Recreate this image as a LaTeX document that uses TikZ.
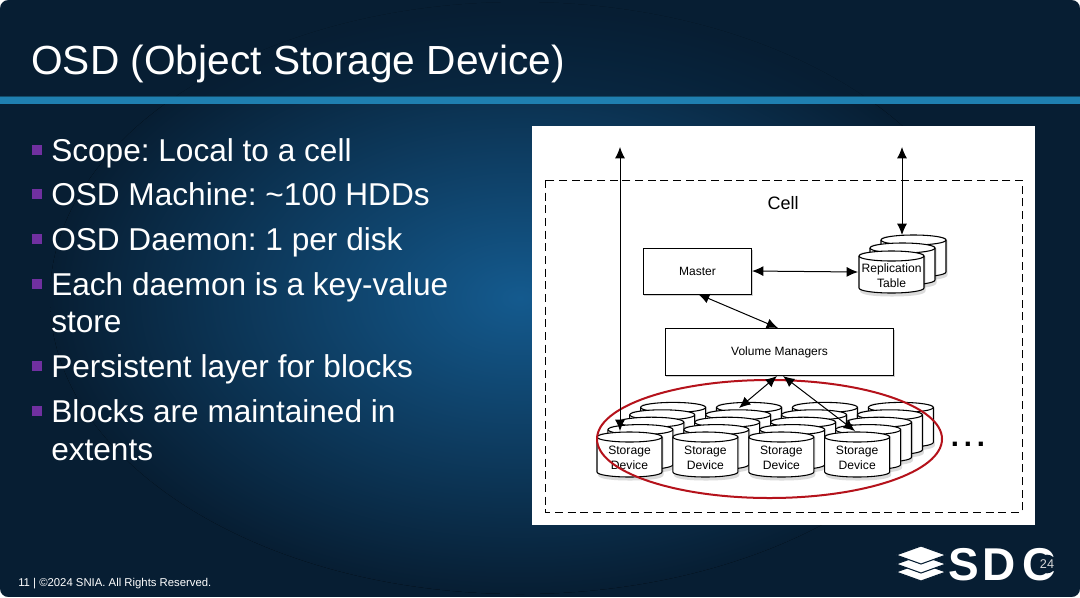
\documentclass[tikz,border=0pt]{standalone}
\usepackage{fontspec}
\setmainfont{Liberation Sans}
\frenchspacing
\usetikzlibrary{arrows.meta,shapes.geometric}
\definecolor{navy}{HTML}{071E33}
\definecolor{glow}{HTML}{145A8E}
\definecolor{barblue}{HTML}{1F7FB0}
\definecolor{bulletc}{HTML}{7030A0}
\definecolor{ringred}{HTML}{B5121B}
\newcommand{\fs}[1]{\fontsize{#1}{#1}\selectfont}
\tikzset{
  x=0.75pt,y=-0.75pt,
  body/.style={text=white,anchor=base west,inner sep=0,font=\fs{23.7pt}},
  bul/.style={fill=bulletc,inner sep=0,minimum size=7pt,anchor=south west},
  box/.style={draw=black,fill=white,line width=0.8pt,font=\fs{9pt},inner sep=0,anchor=north west},
  lbl/.style={font=\fs{9.1pt},align=center,inner sep=0,text=black,execute at begin node=\setlength{\baselineskip}{11.2pt}},
  link/.style={line width=0.75pt,black,{Latex[length=8.5pt,width=7.5pt]}-{Latex[length=8.5pt,width=7.5pt]}},
  cyl/.pic={
    \fill[black,opacity=.14] (1,3) .. controls (1,0) and (15,1) .. (33,1) .. controls (51,1) and (66.5,0) .. (66.5,6)
      -- (66.5,\cylh-2) .. controls (66.5,\cylh+2) and (51,\cylh+3.5) .. (33,\cylh+3.5) .. controls (15,\cylh+3.5) and (1,\cylh+2) .. (1,\cylh-2) -- cycle;
    \filldraw[draw=black,fill=white,line width=0.8pt]
      (0,5) .. controls (0,2.2) and (14.5,0) .. (32.5,0) .. controls (50.5,0) and (65,2.2) .. (65,5)
      -- (65,\cylh-5) .. controls (65,\cylh-2.2) and (50.5,\cylh) .. (32.5,\cylh) .. controls (14.5,\cylh) and (0,\cylh-2.2) .. (0,\cylh-5) -- cycle;
    \draw[line width=0.8pt] (0,5) .. controls (0,7.8) and (14.5,10) .. (32.5,10) .. controls (50.5,10) and (65,7.8) .. (65,5);
  }
}
\begin{document}
\begin{tikzpicture}
\useasboundingbox (0,0) rectangle (1080,597);
\fill[navy] (0,0) rectangle (1080,597);
\fill[inner color=glow,outer color=navy] (520,298) ellipse [x radius=470,y radius=296];
\fill[navy,opacity=.5] (0,0) rectangle (1080,97);
\fill[barblue] (0,97) rectangle (1080,104);
\fill[black!40!barblue] (0,96) rectangle (1080,97);
% rounded slide corners
\fill[white] (0,0) -- (8,0) .. controls (3.6,0) and (0,3.6) .. (0,8) -- cycle;
\fill[white] (1080,0) -- (1072,0) .. controls (1076.4,0) and (1080,3.6) .. (1080,8) -- cycle;
\fill[white] (0,597) -- (8,597) .. controls (3.6,597) and (0,593.4) .. (0,589) -- cycle;
\fill[white] (1080,597) -- (1072,597) .. controls (1076.4,597) and (1080,593.4) .. (1080,589) -- cycle;

\node[text=white,anchor=base west,inner sep=0,font=\fs{30.5pt}] (title) at (31,74) {OSD (Object Storage Device)};

\node[bul] (b1) at (32,155) {};
\node[body] (t1) at (51,161) {Scope: Local to a cell};
\node[bul] (b2) at (32,199) {};
\node[body] (t2) at (51,205) {OSD Machine: \textasciitilde100 HDDs};
\node[bul] (b3) at (32,244) {};
\node[body] (t3) at (51,250) {OSD Daemon: 1 per disk};
\node[bul] (b4) at (32,289) {};
\node[body] (t4) at (51,295) {Each daemon is a key-value};
\node[body] (t4b) at (51,332) {store};
\node[bul] (b5) at (32,371) {};
\node[body] (t5) at (51,377) {Persistent layer for blocks};
\node[bul] (b6) at (32,416) {};
\node[body] (t6) at (51,422) {Blocks are maintained in};
\node[body] (t6b) at (51,460) {extents};

\node[text=white,anchor=base west,inner sep=0,font=\fs{8.5pt}] (foot) at (18,586) {11 | ©2024 SNIA. All Rights Reserved.};

% panel
\fill[white] (532,126) rectangle (1035,525);
\draw[black,line width=0.6pt,dash pattern=on 6pt off 3.5pt] (545,180) rectangle (1022,512);
\node[font=\fs{13.5pt},inner sep=0] (cell) at (783,203) {Cell};

\coordinate (topL) at (620,147);
\coordinate (topR) at (902,147);

% boxes
\fill[black,opacity=.18] (644,250) rectangle (752.5,296);
\fill[black,opacity=.18] (666,330) rectangle (894.5,377);
\node[box,minimum width=81pt,minimum height=34.5pt] (master) at (643,248) {Master};
\node[box,minimum width=171pt,minimum height=35.25pt] (vm) at (665,328) {Volume Managers};

% replication table
\def\cylh{42}
\pic at (881,235) {cyl};
\pic at (870,243) {cyl};
\pic at (859,251) {cyl};
\node[lbl] (rep) at (891.5,275.5) {Replication\\Table};
\coordinate (repTop) at (902,235);

% storage devices
\def\cylh{45}
\foreach \r in {4,3,2,1,0}{
  \foreach \c in {0,1,2,3}{
    \pgfmathsetmacro{\px}{597+75.9*\c+10.9*\r}
    \pgfmathsetmacro{\py}{432-7.4*\r}
    \pic at (\px,\py) {cyl};
  }
}
\node[lbl] (sd0) at (629.5,458) {Storage\\Device};
\node[lbl] (sd1) at (705.4,458) {Storage\\Device};
\node[lbl] (sd2) at (781.3,458) {Storage\\Device};
\node[lbl] (sd3) at (857.2,458) {Storage\\Device};
\coordinate (d0) at (620,431);
\coordinate (d1) at (739,408);
\coordinate (d3) at (855,431);
\coordinate (vmA) at (777,376);
\coordinate (vmB) at (783,376);
\coordinate (mR) at (752,271);
\coordinate (rL) at (858,272);
\coordinate (mB) at (698,294);
\coordinate (vmT) at (778,328);

\node[font=\bfseries\fs{22pt},inner sep=0,anchor=base] (dots) at (968,446) {.\kern3.6pt.\kern3.6pt.};

\draw[ringred,line width=1.5pt] (769.5,439) ellipse [x radius=172.5,y radius=59];

\draw[link] (topL) -- (d0);
\draw[link] (topR) -- (repTop);
\draw[link] (mR) -- (rL);
\draw[link] (mB) -- (vmT);
\draw[link] (vmA) -- (d1);
\draw[link] (vmB) -- (d3);

% logo
\foreach \yy in {574,566,557}{
  \filldraw[draw=navy,fill=white,line width=0.8pt] (896,\yy-2) -- (921,\yy-11) -- (946,\yy-2) -- (921,\yy+7) -- cycle;
}
\node[text=white,anchor=base west,inner sep=0,font=\bfseries\fs{34.5pt}] (sdc1) at (948,580) {S};
\node[text=white,anchor=base west,inner sep=0,font=\bfseries\fs{34.5pt}] (sdc2) at (982,580) {D};
\node[text=white,anchor=base west,inner sep=0,font=\bfseries\fs{34.5pt}] (sdc3) at (1022,580) {C};
\node[circle,fill=navy,inner sep=0,minimum size=14pt,font=\fs{9.5pt},text=white!85!black] (yr) at (1047,564) {24};
\end{tikzpicture}
\end{document}
